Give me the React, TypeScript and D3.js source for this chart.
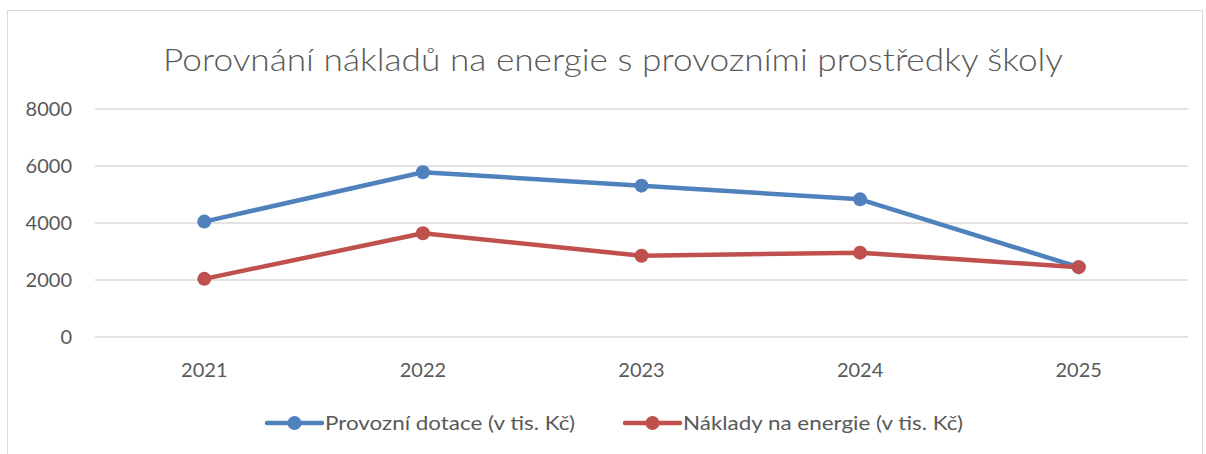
import React, { useRef, useEffect } from "react";
import * as d3 from "d3";

const years = ["2021", "2022", "2023", "2024", "2025"];
const provozniDotace = [4050, 5780, 5310, 4830, 2450];
const nakladyEnergie = [2040, 3640, 2850, 2960, 2450];
const yTicks = [0, 2000, 4000, 6000, 8000];
const seriesNames = ["Provozní dotace (v tis. Kč)", "Náklady na energie (v tis. Kč)"];
const seriesColors = ["#4F81BD", "#C0504D"];
const title = "Porovnání nákladů na energie s provozními prostředky školy";

export default function App() {
  const ref = useRef<SVGSVGElement>(null);

  useEffect(() => {
    const W = 1206, H = 454;
    const svg = d3.select(ref.current).attr("width", W).attr("height", H);
    svg.selectAll("*").remove();
    const font = "Lato, 'Open Sans', sans-serif";

    // chart area border
    svg.append("rect")
      .attr("x", 7.5).attr("y", 10.5).attr("width", 1195).attr("height", 460)
      .attr("fill", "#fff").attr("stroke", "#D9D9D9").attr("stroke-width", 1);

    svg.append("text")
      .attr("x", 613).attr("y", 71)
      .attr("text-anchor", "middle")
      .attr("font-family", font).attr("font-size", 32).attr("font-weight", 300)
      .attr("fill", "#595959")
      .attr("textLength", 900).attr("lengthAdjust", "spacingAndGlyphs")
      .text(title);

    const x = d3.scaleBand().domain(years).range([95, 1188]);
    const y = d3.scaleLinear().domain([0, 8000]).range([337, 109]);

    const grid = svg.append("g");
    grid.selectAll("line").data(yTicks).enter().append("line")
      .attr("x1", 95).attr("x2", 1188)
      .attr("y1", d => y(d)).attr("y2", d => y(d))
      .attr("stroke", "#D9D9D9").attr("stroke-width", 1.5);

    svg.append("g").selectAll("text").data(yTicks).enter().append("text")
      .attr("x", 72).attr("y", d => y(d)).attr("dy", "0.35em")
      .attr("text-anchor", "end")
      .attr("font-family", font).attr("font-size", 20)
      .attr("fill", "#595959")
      .text(d => String(d));

    svg.append("g").selectAll("text").data(years).enter().append("text")
      .attr("x", d => x(d)! + x.bandwidth() / 2).attr("y", 377)
      .attr("text-anchor", "middle")
      .attr("font-family", font).attr("font-size", 20)
      .attr("fill", "#595959")
      .text(d => d);

    const line = d3.line<number>()
      .x((_, i) => x(years[i])! + x.bandwidth() / 2)
      .y(d => y(d));

    [provozniDotace, nakladyEnergie].forEach((vals, si) => {
      const g = svg.append("g");
      g.append("path").datum(vals)
        .attr("d", line)
        .attr("fill", "none")
        .attr("stroke", seriesColors[si])
        .attr("stroke-width", 4.5)
        .attr("stroke-linejoin", "round")
        .attr("stroke-linecap", "round");
      g.selectAll("circle").data(vals).enter().append("circle")
        .attr("cx", (_, i) => x(years[i])! + x.bandwidth() / 2)
        .attr("cy", d => y(d))
        .attr("r", 7)
        .attr("fill", seriesColors[si]);
    });

    // legend
    const legendX = [267, 625];
    const legendTextLen = [250, 280];
    seriesNames.forEach((name, i) => {
      const g = svg.append("g").attr("transform", `translate(${legendX[i]},423)`);
      g.append("line").attr("x1", 0).attr("x2", 55).attr("y1", 0).attr("y2", 0)
        .attr("stroke", seriesColors[i]).attr("stroke-width", 4.5).attr("stroke-linecap", "round");
      g.append("circle").attr("cx", 27.5).attr("cy", 0).attr("r", 7).attr("fill", seriesColors[i]);
      g.append("text").attr("x", 58).attr("y", 0).attr("dy", "0.35em")
        .attr("font-family", font).attr("font-size", 20)
        .attr("fill", "#595959")
        .attr("textLength", legendTextLen[i]).attr("lengthAdjust", "spacingAndGlyphs")
        .text(name);
    });
  }, []);

  return (
    <div style={{ position: "absolute", top: 0, left: 0 }}>
      <svg ref={ref}></svg>
    </div>
  );
}
